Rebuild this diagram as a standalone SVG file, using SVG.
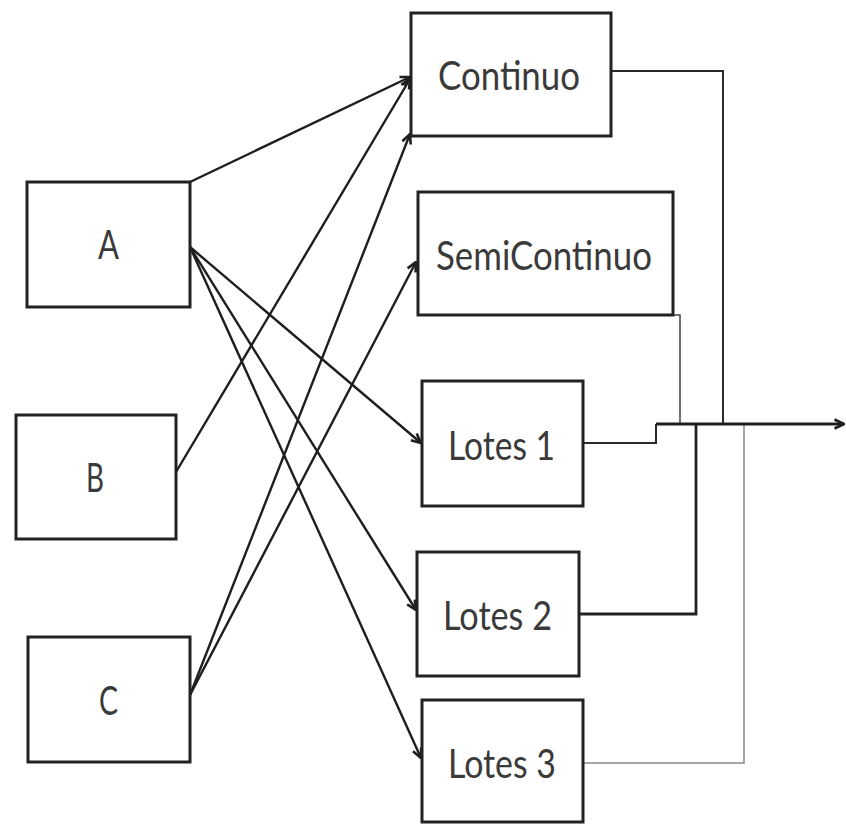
<svg xmlns="http://www.w3.org/2000/svg" width="846" height="825" viewBox="0 0 846 825">
<style>
.box{fill:#fff;stroke:#222;stroke-width:3}
.lbl{font-family:Lato,"Liberation Sans",sans-serif;font-size:41px;fill:#3a3a3a}
.c{fill:none;stroke:#1e1e1e;stroke-width:2.4}
.o{fill:none;stroke:#2a2a2a;stroke-width:2}
</style>
<defs>
<marker id="ah" viewBox="0 0 12 12" refX="11" refY="6" markerWidth="12" markerHeight="12" markerUnits="userSpaceOnUse" orient="auto">
<path d="M1.5,1.5 L11,6 L1.5,10.5" fill="none" stroke="#1e1e1e" stroke-width="2.6"/>
</marker>
</defs>
<rect width="846" height="825" fill="#fff"/>
<g id="connectors">
<line class="c" x1="190" y1="182" x2="410" y2="77" marker-end="url(#ah)"/>
<line class="c" x1="176" y1="472" x2="410" y2="79" marker-end="url(#ah)"/>
<line class="c" x1="190" y1="695" x2="410" y2="134" marker-end="url(#ah)"/>
<line class="c" x1="190" y1="695" x2="416" y2="262" marker-end="url(#ah)"/>
<line class="c" x1="190" y1="247" x2="421" y2="443" marker-end="url(#ah)"/>
<line class="c" x1="190" y1="247" x2="416" y2="610" marker-end="url(#ah)"/>
<line class="c" x1="190" y1="247" x2="421" y2="758" marker-end="url(#ah)"/>
<polyline class="o" points="611,71 723,71 723,424"/>
<polyline fill="none" stroke="#444" stroke-width="1.5" points="673,315 680,315 680,424"/>
<polyline class="o" points="583,443 656,443 656,424"/>
<polyline fill="none" stroke="#222" stroke-width="2.8" points="579,614 696,614 696,424"/>
<polyline fill="none" stroke="#888" stroke-width="1.5" points="583,763 744,763 744,424"/>
<line x1="656" y1="424" x2="844" y2="424" stroke="#1e1e1e" stroke-width="2.8" marker-end="url(#ah)"/>
</g>
<g id="nodeA"><rect class="box" x="27" y="182" width="163" height="125"/><text class="lbl" x="98" y="259" textLength="21" lengthAdjust="spacingAndGlyphs">A</text></g>
<g id="nodeB"><rect class="box" x="16" y="415" width="160" height="124"/><text class="lbl" x="86" y="492" textLength="18" lengthAdjust="spacingAndGlyphs">B</text></g>
<g id="nodeC"><rect class="box" x="28" y="637" width="162" height="125"/><text class="lbl" x="99" y="715" textLength="19" lengthAdjust="spacingAndGlyphs">C</text></g>
<g id="continuo"><rect class="box" x="411" y="13" width="200" height="123"/><text class="lbl" x="438" y="90" textLength="142" lengthAdjust="spacingAndGlyphs">Continuo</text></g>
<g id="semicontinuo"><rect class="box" x="418" y="192" width="255" height="123"/><text class="lbl" x="436" y="270" textLength="216" lengthAdjust="spacingAndGlyphs">SemiContinuo</text></g>
<g id="lotes1"><rect class="box" x="422" y="381" width="161" height="125"/><text class="lbl" x="448" y="460" textLength="107" lengthAdjust="spacingAndGlyphs">Lotes 1</text></g>
<g id="lotes2"><rect class="box" x="417" y="552" width="162" height="124"/><text class="lbl" x="443" y="630" textLength="109" lengthAdjust="spacingAndGlyphs">Lotes 2</text></g>
<g id="lotes3"><rect class="box" x="422" y="700" width="161" height="122"/><text class="lbl" x="448" y="778" textLength="108" lengthAdjust="spacingAndGlyphs">Lotes 3</text></g>
</svg>
